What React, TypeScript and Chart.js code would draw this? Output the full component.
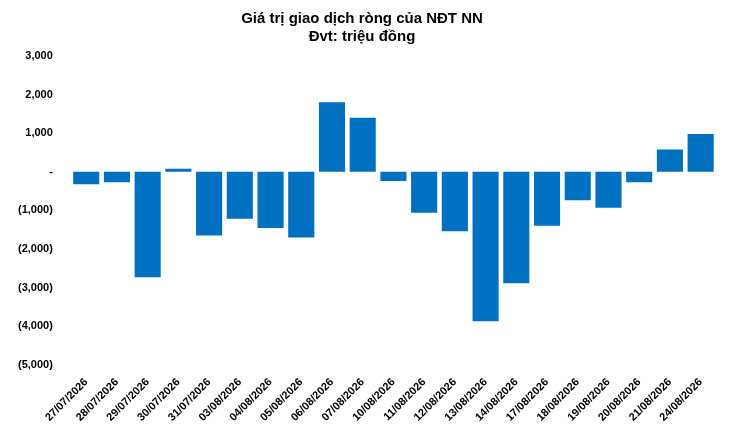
import React, { useEffect, useRef } from "react";
import { Chart, registerables } from "chart.js";
Chart.register(...registerables);

const categories = ["27/07/2026","28/07/2026","29/07/2026","30/07/2026","31/07/2026","03/08/2026","04/08/2026","05/08/2026","06/08/2026","07/08/2026","10/08/2026","11/08/2026","12/08/2026","13/08/2026","14/08/2026","17/08/2026","18/08/2026","19/08/2026","20/08/2026","21/08/2026","24/08/2026"];
const netValues = [-320,-270,-2730,80,-1650,-1220,-1460,-1700,1800,1400,-240,-1060,-1540,-3870,-2890,-1400,-740,-930,-270,580,980];
const titleLines = ["Giá trị giao dịch ròng của NĐT NN", "Đvt: triệu đồng"];

function fmt(v: number) {
  if (v === 0) return "-";
  const s = Math.abs(v).toLocaleString("en-US");
  return v < 0 ? `(${s})` : s;
}

export default function App() {
  const ref = useRef<HTMLCanvasElement>(null);
  useEffect(() => {
    const chart = new Chart(ref.current!, {
      type: "bar",
      data: { labels: categories, datasets: [{ data: netValues, backgroundColor: "#0070C0", categoryPercentage: 0.85, barPercentage: 1 }] },
      options: {
        animation: false,
        responsive: false,
        layout: { padding: { left: 0, right: 6, top: 0, bottom: 4 } },
        plugins: {
          legend: { display: false },
          tooltip: { enabled: false },
          title: { display: true, text: titleLines, color: "#000", font: { family: "Arial, Liberation Sans", size: 15, weight: "bold" }, padding: { top: 2, bottom: 10 } },
        },
        scales: {
          x: {
            grid: { display: false },
            border: { display: false },
            ticks: { color: "#000", maxRotation: 45, minRotation: 45, autoSkip: false, font: { family: "Arial, Liberation Sans", size: 11, weight: "bold" } },
          },
          y: {
            min: -5000, max: 3000,
            grid: { display: false },
            border: { display: false },
            ticks: { stepSize: 1000, color: "#000", padding: 10, callback: (v: any) => fmt(Number(v)), font: { family: "Arial, Liberation Sans", size: 11, weight: "bold" } },
          },
        },
      },
    });
    return () => chart.destroy();
  }, []);
  return <canvas ref={ref} width={714} height={423} />;
}
